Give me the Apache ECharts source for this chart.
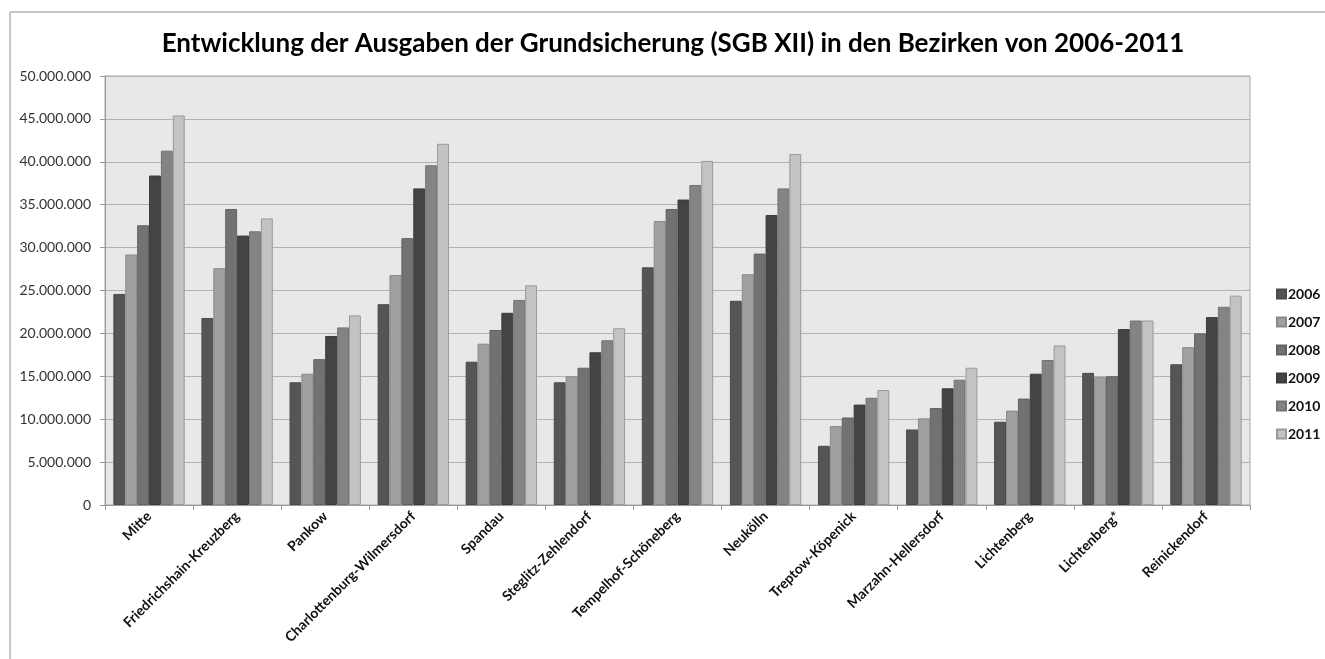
<!DOCTYPE html>
<html>
<head>
<meta charset="utf-8">
<script src="https://cdn.jsdelivr.net/npm/echarts@6/dist/echarts.min.js"></script>
<style>
html,body{margin:0;padding:0;background:#fff;}
#chart{width:1325px;height:659px;}
</style>
</head>
<body>
<div id="chart"></div>
<script>
const categories = ['Mitte','Friedrichshain-Kreuzberg','Pankow','Charlottenburg-Wilmersdorf','Spandau','Steglitz-Zehlendorf','Tempelhof-Schöneberg','Neukölln','Treptow-Köpenick','Marzahn-Hellersdorf','Lichtenberg','Lichtenberg*','Reinickendorf'];
const years = ['2006','2007','2008','2009','2010','2011'];
const v2006 = [24600000,21800000,14300000,23400000,16700000,14300000,27700000,23800000,6900000,8800000,9700000,15400000,16400000];
const v2007 = [29200000,27600000,15300000,26800000,18800000,15000000,33100000,26900000,9200000,10100000,11000000,14900000,18400000];
const v2008 = [32600000,34500000,17000000,31100000,20400000,16000000,34500000,29300000,10200000,11300000,12400000,15000000,20000000];
const v2009 = [38400000,31400000,19700000,36900000,22400000,17800000,35600000,33800000,11700000,13600000,15300000,20500000,21900000];
const v2010 = [41300000,31900000,20700000,39600000,23900000,19200000,37300000,36900000,12500000,14600000,16900000,21500000,23100000];
const v2011 = [45400000,33400000,22100000,42100000,25600000,20600000,40100000,40900000,13400000,16000000,18600000,21500000,24400000];
const seriesValues = [v2006,v2007,v2008,v2009,v2010,v2011];
const yTicks = [0,5000000,10000000,15000000,20000000,25000000,30000000,35000000,40000000,45000000,50000000];

const fills = ['#555555','#a0a0a0','#727272','#444444','#848484','#c3c3c3'];
const borders = ['#4a4a4a','#8a8a8a','#626262','#3c3c3c','#737373','#9a9a9a'];

function fmt(v){ return String(v).replace(/\B(?=(\d{3})+(?!\d))/g,'.'); }

const chart = echarts.init(document.getElementById('chart'));
const FONT = 'Lato';
chart.setOption({
  animation:false,
  backgroundColor:'#ffffff',
  title:{
    text:'Entwicklung der Ausgaben der Grundsicherung (SGB XII) in den Bezirken von 2006-2011',
    left:668, top:26, textAlign:'center',
    textStyle:{fontFamily:FONT,fontWeight:'bold',fontSize:26,color:'#000'}
  },
  legend:{
    orient:'vertical', left:1271, top:282,
    itemWidth:9, itemHeight:9, itemGap:14,
    icon:'rect',
    data:years,
    textStyle:{fontFamily:FONT,fontWeight:'bold',fontSize:14,color:'#111',padding:[0,0,0,-3]}
  },
  grid:{left:105,right:75,top:76,bottom:154,show:true,backgroundColor:'#e8e8e8',borderColor:'#a8a8a8',borderWidth:1},
  xAxis:{
    type:'category', data:categories,
    axisLine:{lineStyle:{color:'#9a9a9a'}},
    axisTick:{show:true,length:5,lineStyle:{color:'#9a9a9a'}},
    axisLabel:{rotate:45,interval:0,margin:9,fontFamily:FONT,fontWeight:'bold',fontSize:14,color:'#111'}
  },
  yAxis:{
    type:'value', min:0, max:50000000, interval:5000000,
    axisLine:{show:true,lineStyle:{color:'#9a9a9a'}},
    axisTick:{show:true,length:5,lineStyle:{color:'#9a9a9a'}},
    splitLine:{lineStyle:{color:'#b2b2b2',width:1}},
    axisLabel:{margin:14,fontFamily:FONT,fontSize:14,color:'#333',formatter:function(v){return yTicks.indexOf(v)>=0?fmt(v):'';}}
  },
  graphic:[
    {type:'line',shape:{x1:10,y1:12,x2:1325,y2:12},style:{stroke:'#8c8c8c',lineWidth:1}},
    {type:'line',shape:{x1:10,y1:12,x2:10,y2:659},style:{stroke:'#8c8c8c',lineWidth:1}}
  ],
  series: years.map((y,i)=>({
    name:y, type:'bar', data:seriesValues[i],
    barGap:'0%', barCategoryGap:'19%',
    itemStyle:{color:fills[i],borderColor:borders[i],borderWidth:1}
  }))
});
</script>
</body>
</html>
